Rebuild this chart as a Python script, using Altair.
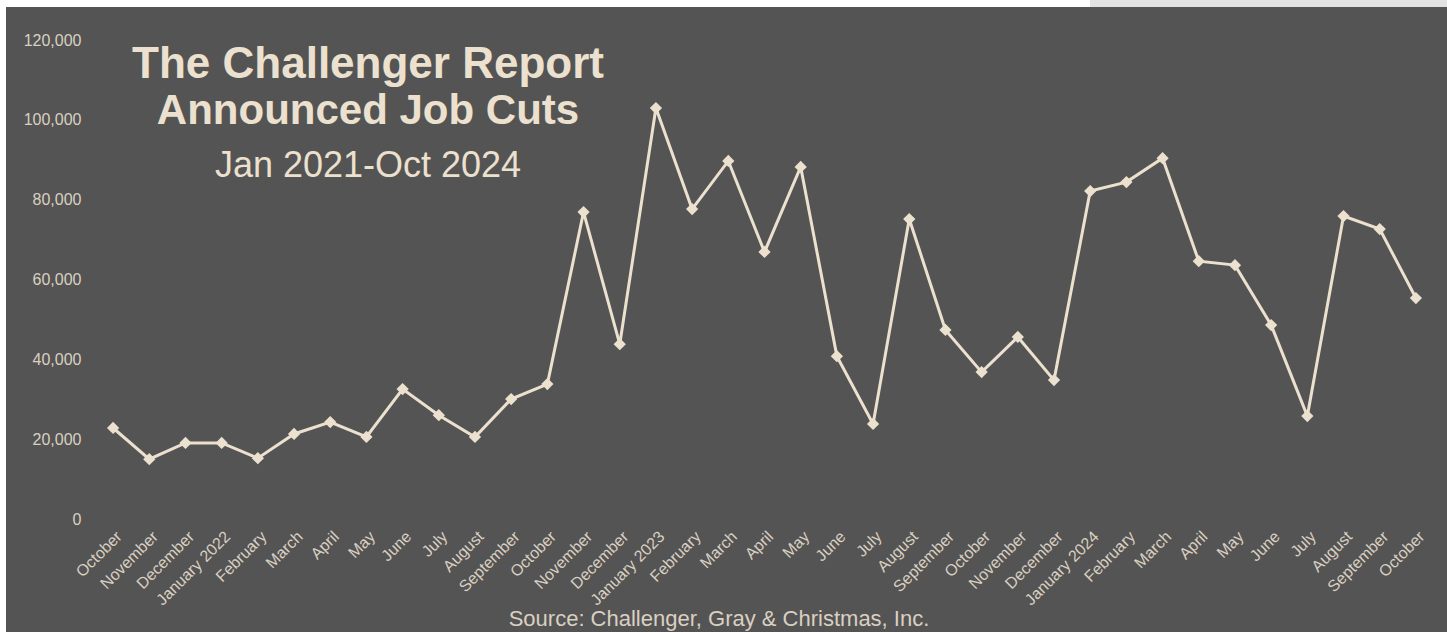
import altair as alt
import pandas as pd

# ---- data ----
months = [
    "October", "November", "December",
    "January 2022", "February", "March", "April", "May", "June", "July",
    "August", "September", "October", "November", "December",
    "January 2023", "February", "March", "April", "May", "June", "July",
    "August", "September", "October", "November", "December",
    "January 2024", "February", "March", "April", "May", "June", "July",
    "August", "September", "October",
]
job_cuts = [
    22800, 15000, 19050,
    19050, 15250, 21300, 24300, 20550, 32550, 26000,
    20550, 30050, 33800, 76900, 43800,
    102950, 77650, 89700, 66900, 88200, 40800, 23800,
    75150, 47350, 36800, 45600, 34800,
    82150, 84400, 90400, 64600, 63600, 48600, 25800,
    75900, 72650, 55350,
]
title_lines = ["The Challenger Report", "Announced Job Cuts"]
subtitle = "Jan 2021-Oct 2024"
source = "Source: Challenger, Gray & Christmas, Inc."
y_ticks = [0, 20000, 40000, 60000, 80000, 100000, 120000]

# ---- styling ----
BG = "#545454"
CREAM = "#ECE1CF"
LABEL = "#DAD0C1"
FONT = "Liberation Sans"
PAD_L, PAD_T, PAD_R, PAD_B = 95, 40, 13, 113
W, H = 1339, 479

df = pd.DataFrame({
    "key": [f"{i:02d}|{m}" for i, m in enumerate(months)],
    "cuts": job_cuts,
})

x_enc = alt.X(
    "key:O", sort=None, title=None,
    scale=alt.Scale(type="point", padding=0.5),
    axis=alt.Axis(
        labelExpr="split(datum.value, '|')[1]",
        labelAngle=-45, labelAlign="right", labelBaseline="top",
        labelPadding=9, labelFontSize=16, labelColor=LABEL, labelFont=FONT,
        ticks=False, domain=False, grid=False, labelOverlap=False,
    ),
)
y_enc = alt.Y(
    "cuts:Q", title=None,
    scale=alt.Scale(domain=[0, 120000], nice=False, zero=True),
    axis=alt.Axis(
        values=y_ticks, format=",d", labelFontSize=16, labelColor=LABEL,
        labelFont=FONT, labelPadding=14, ticks=False, domain=False, grid=False,
    ),
)

base = alt.Chart(df)
line = base.mark_line(color=CREAM, strokeWidth=3).encode(x=x_enc, y=y_enc)
pts = base.mark_point(shape="diamond", filled=True, size=150, color=CREAM, opacity=1).encode(x=x_enc, y=y_enc)

one = pd.DataFrame({"a": [0]})
strip_top = alt.Chart(one).mark_rect(color="#FFFFFF").encode(
    x=alt.value(-PAD_L), x2=alt.value(995), y=alt.value(-PAD_T), y2=alt.value(-PAD_T + 7))
strip_top2 = alt.Chart(one).mark_rect(color="#E3E3E3").encode(
    x=alt.value(995), x2=alt.value(W + PAD_R), y=alt.value(-PAD_T), y2=alt.value(-PAD_T + 7))
strip_left = alt.Chart(one).mark_rect(color="#FFFFFF").encode(
    x=alt.value(-PAD_L), x2=alt.value(-PAD_L + 6), y=alt.value(-PAD_T), y2=alt.value(H + PAD_B))

t1 = alt.Chart(pd.DataFrame({"t": [title_lines[0]]})).mark_text(
    font=FONT, fontSize=44, fontWeight="bold", color=CREAM,
    align="center", baseline="alphabetic"
).encode(text="t:N", x=alt.value(273), y=alt.value(38))
t2 = alt.Chart(pd.DataFrame({"t": [title_lines[1]]})).mark_text(
    font=FONT, fontSize=42, fontWeight="bold", color=CREAM,
    align="center", baseline="alphabetic"
).encode(text="t:N", x=alt.value(273), y=alt.value(84))
t3 = alt.Chart(pd.DataFrame({"t": [subtitle]})).mark_text(
    font=FONT, fontSize=36, color=CREAM, align="center", baseline="alphabetic"
).encode(text="t:N", x=alt.value(273), y=alt.value(137))
src = alt.Chart(pd.DataFrame({"t": [source]})).mark_text(
    font=FONT, fontSize=22, color=LABEL, align="center", baseline="alphabetic"
).encode(text="t:N", x=alt.value(624), y=alt.value(586))

chart = alt.layer(
    strip_top, strip_top2, strip_left, line, pts, t1, t2, t3, src
).properties(
    width=W, height=H,
    background=BG,
    padding={"left": PAD_L, "top": PAD_T, "right": PAD_R, "bottom": PAD_B},
    autosize=alt.AutoSizeParams(type="none"),
).configure_view(stroke=None)

chart.save("out.html", embed_options={"renderer": "svg", "actions": False})
